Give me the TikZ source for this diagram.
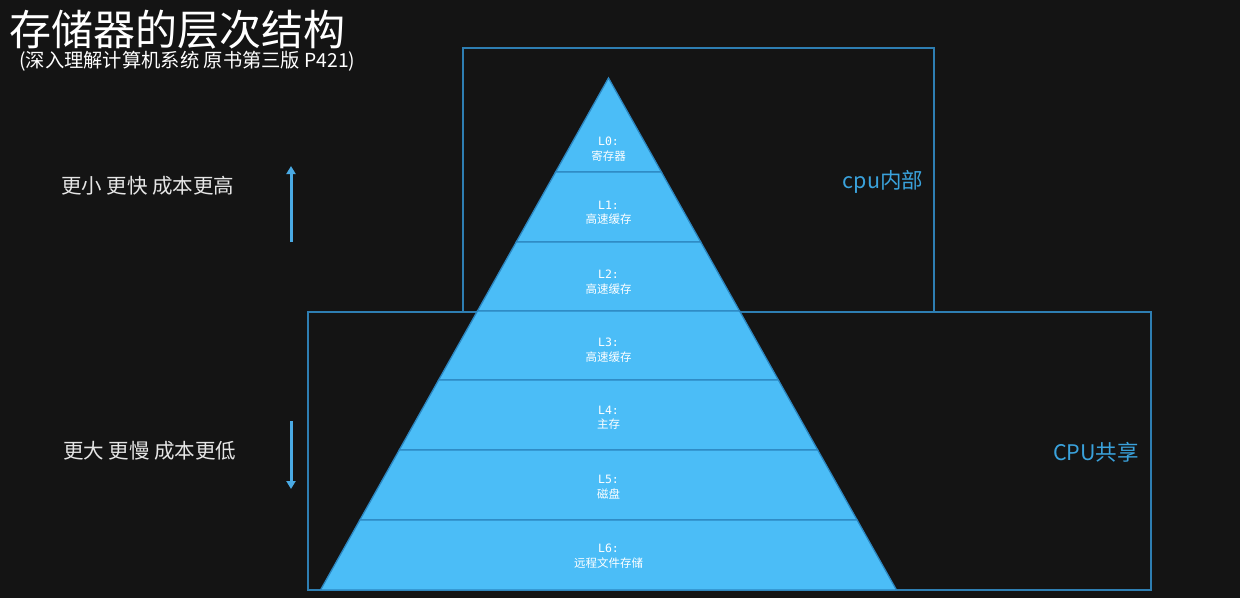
\documentclass[tikz,border=0pt]{standalone}
\usepackage{fontspec}
\setmainfont{Noto Sans CJK SC}
\newfontfamily\cjk{Noto Sans CJK SC}
\newfontfamily\monof{DejaVu Sans Mono}
\usetikzlibrary{arrows.meta}
\definecolor{bg}{HTML}{141414}
\definecolor{bandfill}{HTML}{4BBDF7}
\definecolor{bandline}{HTML}{2C86C0}
\definecolor{boxline}{HTML}{2E7EB2}
\definecolor{labelblue}{HTML}{3AA2DC}
\definecolor{arrowblue}{HTML}{4AAAE4}
\definecolor{sidetext}{HTML}{E6E6E6}
\begin{document}
\begin{tikzpicture}[x=1pt,y=-1pt,
  band/.style={fill=bandfill,draw=bandline,line width=1.3pt,line join=miter},
  regionbox/.style={draw=boxline,line width=1.1pt},
  bandlabel/.style={text=white,align=center,font=\fontsize{11.5}{14.5}\selectfont,inner sep=0pt},
  sidelabel/.style={text=sidetext,font=\cjk\fontsize{20.5}{24}\selectfont,inner sep=0pt,anchor=west},
  regionlabel/.style={text=labelblue,font=\cjk\fontsize{21.5}{24}\selectfont,inner sep=0pt},
  levelarrow/.style={draw=arrowblue,line width=3pt,-{Triangle[width=9pt,length=8pt]}}
]
\useasboundingbox (0,0) rectangle (1240,598);
\fill[bg] (0,0) rectangle (1240,598);

% region boxes
\draw[regionbox] (463,48) rectangle (934,312);
\draw[regionbox] (308,312) rectangle (1151,590);

% pyramid bands (apex 608.5,78 ; half width = 0.5625*(y-78))
\def\cx{608.5}
\draw[band] (\cx,78) -- (\cx+52.875,172) -- (\cx-52.875,172) -- cycle;
\draw[band] (\cx-52.875,172) -- (\cx+52.875,172) -- (\cx+92.25,242) -- (\cx-92.25,242) -- cycle;
\draw[band] (\cx-92.25,242) -- (\cx+92.25,242) -- (\cx+131.06,311) -- (\cx-131.06,311) -- cycle;
\draw[band] (\cx-131.06,311) -- (\cx+131.06,311) -- (\cx+169.875,380) -- (\cx-169.875,380) -- cycle;
\draw[band] (\cx-169.875,380) -- (\cx+169.875,380) -- (\cx+209.25,450) -- (\cx-209.25,450) -- cycle;
\draw[band] (\cx-209.25,450) -- (\cx+209.25,450) -- (\cx+248.625,520) -- (\cx-248.625,520) -- cycle;
\draw[band] (\cx-248.625,520) -- (\cx+248.625,520) -- (\cx+288,590) -- (\cx-288,590) -- cycle;

% band labels
\node[bandlabel] (l0) at (608.5,149) {{\monof L0:}\\寄存器};
\node[bandlabel] (l1) at (608.5,213) {{\monof L1:}\\高速缓存};
\node[bandlabel] (l2) at (608.5,282) {{\monof L2:}\\高速缓存};
\node[bandlabel] (l3) at (608.5,350) {{\monof L3:}\\高速缓存};
\node[bandlabel] (l4) at (608.5,418) {{\monof L4:}\\主存};
\node[bandlabel] (l5) at (608.5,487) {{\monof L5:}\\磁盘};
\node[bandlabel] (l6) at (608.5,556) {{\monof L6:}\\远程文件存储};

% title
\node[text=white,font=\cjk\fontsize{42}{45}\selectfont,inner sep=0pt,anchor=west] (title) at (9,30) {存储器的层次结构};
\node[text=white,font=\cjk\fontsize{19.3}{22}\selectfont,inner sep=0pt,anchor=west] (subtitle) at (19,61) {(深入理解计算机系统 原书第三版 P421)};

% side labels
\node[sidelabel] (fast) at (61,186) {更小 更快 成本更高};
\node[sidelabel] (slow) at (63,451) {更大 更慢 成本更低};

% region labels
\node[regionlabel] (cpuin) at (883,182) {cpu内部};
\node[regionlabel] (cpushare) at (1096,452) {CPU共享};

% arrows
\coordinate (upA) at (291,242);
\coordinate (upB) at (291,166);
\coordinate (dnA) at (291,421);
\coordinate (dnB) at (291,489);
\draw[levelarrow] (upA) -- (upB);
\draw[levelarrow] (dnA) -- (dnB);
\end{tikzpicture}
\end{document}
